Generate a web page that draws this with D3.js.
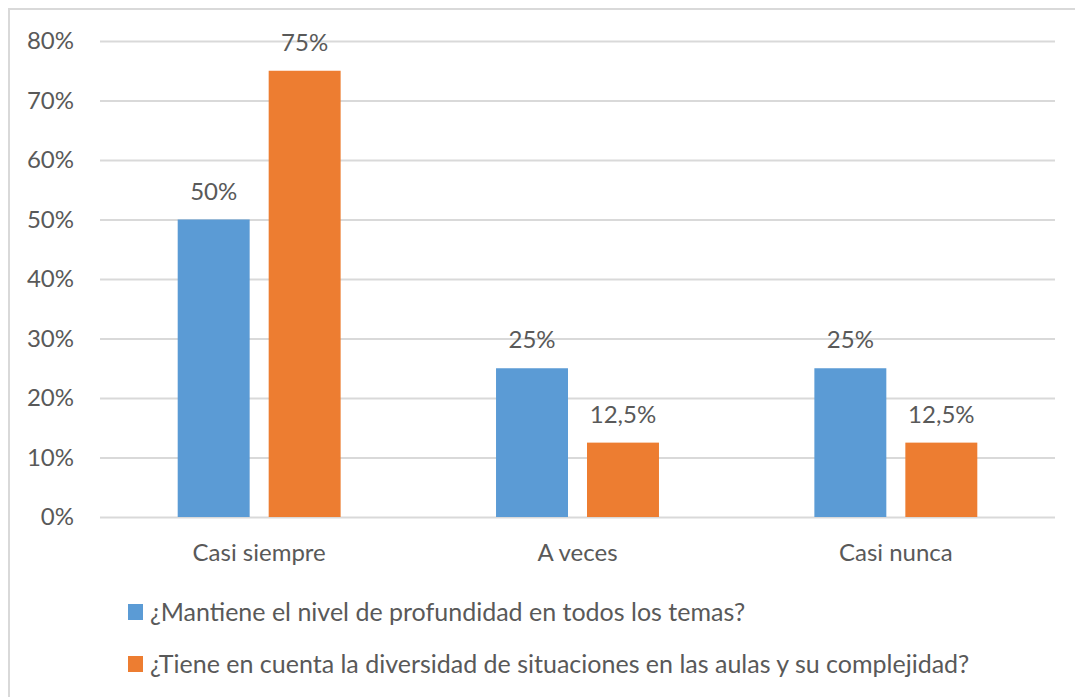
<!DOCTYPE html>
<html lang="es">
<head>
<meta charset="utf-8">
<title>Casi siempre / A veces / Casi nunca</title>
<script src="https://cdnjs.cloudflare.com/ajax/libs/d3/7.8.5/d3.min.js"></script>
<style>
  html, body { margin: 0; padding: 0; background: #fff; }
  svg { display: block; font-family: Lato, "Open Sans", sans-serif; }
  .tick text, .lbl, .legend text { fill: #595959; }
</style>
</head>
<body>
<svg id="chart" width="1075" height="697"></svg>
<script>
// data
var categories = ["Casi siempre", "A veces", "Casi nunca"];
var seriesNames = [
  "¿Mantiene el nivel de profundidad en todos los temas?",
  "¿Tiene en cuenta la diversidad de situaciones en las aulas y su complejidad?"
];
var serie1 = [0.50, 0.25, 0.25];
var serie2 = [0.75, 0.125, 0.125];
var valueLabels1 = ["50%", "25%", "25%"];
var valueLabels2 = ["75%", "12,5%", "12,5%"];
var yTicks = [0, 0.1, 0.2, 0.3, 0.4, 0.5, 0.6, 0.7, 0.8];
var colors = ["#5B9BD5", "#ED7D31"];

var svg = d3.select("#chart");

// chart border (left + top, right side cut off like the picture)
svg.append("path")
  .attr("d", "M9,697 L9,9 L1075,9")
  .attr("fill", "none")
  .attr("stroke", "#d9d9d9")
  .attr("stroke-width", 2);

var plotLeft = 100, plotRight = 1055, plotTop = 41, plotBottom = 517;

var y = d3.scaleLinear().domain([0, 0.8]).range([plotBottom, plotTop]);
var x0 = d3.scaleBand().domain(categories).range([plotLeft, plotRight]).padding(0);
var x1 = d3.scaleBand().domain([0, 1]).range([0, x0.bandwidth()])
  .paddingInner(0.209).paddingOuter(0.854);

// gridlines + y labels
var yAxis = d3.axisLeft(y).tickValues(yTicks)
  .tickSize(-(plotRight - plotLeft)).tickPadding(26)
  .tickFormat(d3.format(".0%"));
var gy = svg.append("g").attr("transform", "translate(" + plotLeft + ",0)").call(yAxis);
gy.select(".domain").remove();
gy.selectAll(".tick line").attr("stroke", "#d9d9d9").attr("stroke-width", 2);
gy.selectAll(".tick text").attr("font-size", 24).attr("fill", "#595959")
  .attr("font-family", "Lato, sans-serif");

// x labels
var xAxis = d3.axisBottom(x0).tickSize(0).tickPadding(27);
var gx = svg.append("g").attr("transform", "translate(0," + plotBottom + ")").call(xAxis);
gx.select(".domain").remove();
gx.selectAll(".tick text").attr("font-size", 24).attr("fill", "#595959")
  .attr("font-family", "Lato, sans-serif");

// bars
var rows = categories.map(function(c, i) {
  return [
    { cat: c, s: 0, v: serie1[i], lbl: valueLabels1[i] },
    { cat: c, s: 1, v: serie2[i], lbl: valueLabels2[i] }
  ];
});

var groups = svg.selectAll("g.cat").data(rows).enter().append("g")
  .attr("class", "cat")
  .attr("transform", function(d, i) { return "translate(" + x0(categories[i]) + ",0)"; });

groups.selectAll("rect").data(function(d) { return d; }).enter().append("rect")
  .attr("x", function(d) { return x1(d.s); })
  .attr("y", function(d) { return y(d.v); })
  .attr("width", x1.bandwidth())
  .attr("height", function(d) { return plotBottom - y(d.v); })
  .attr("fill", function(d) { return colors[d.s]; });

groups.selectAll("text.lbl").data(function(d) { return d; }).enter().append("text")
  .attr("class", "lbl")
  .attr("x", function(d) { return x1(d.s) + x1.bandwidth() / 2; })
  .attr("y", function(d) { return y(d.v) - 20; })
  .attr("text-anchor", "middle")
  .attr("font-size", 24)
  .text(function(d) { return d.lbl; });

// legend
var legend = svg.append("g").attr("class", "legend");
var items = legend.selectAll("g").data(seriesNames).enter().append("g")
  .attr("transform", function(d, i) { return "translate(128," + (612 + i * 52) + ")"; });
items.append("rect")
  .attr("x", 0).attr("y", -8).attr("width", 15).attr("height", 16)
  .attr("fill", function(d, i) { return colors[i]; });
items.append("text")
  .attr("x", 22).attr("y", 0).attr("dy", "0.35em")
  .attr("font-size", 25)
  .text(function(d) { return d; });
</script>
</body>
</html>
